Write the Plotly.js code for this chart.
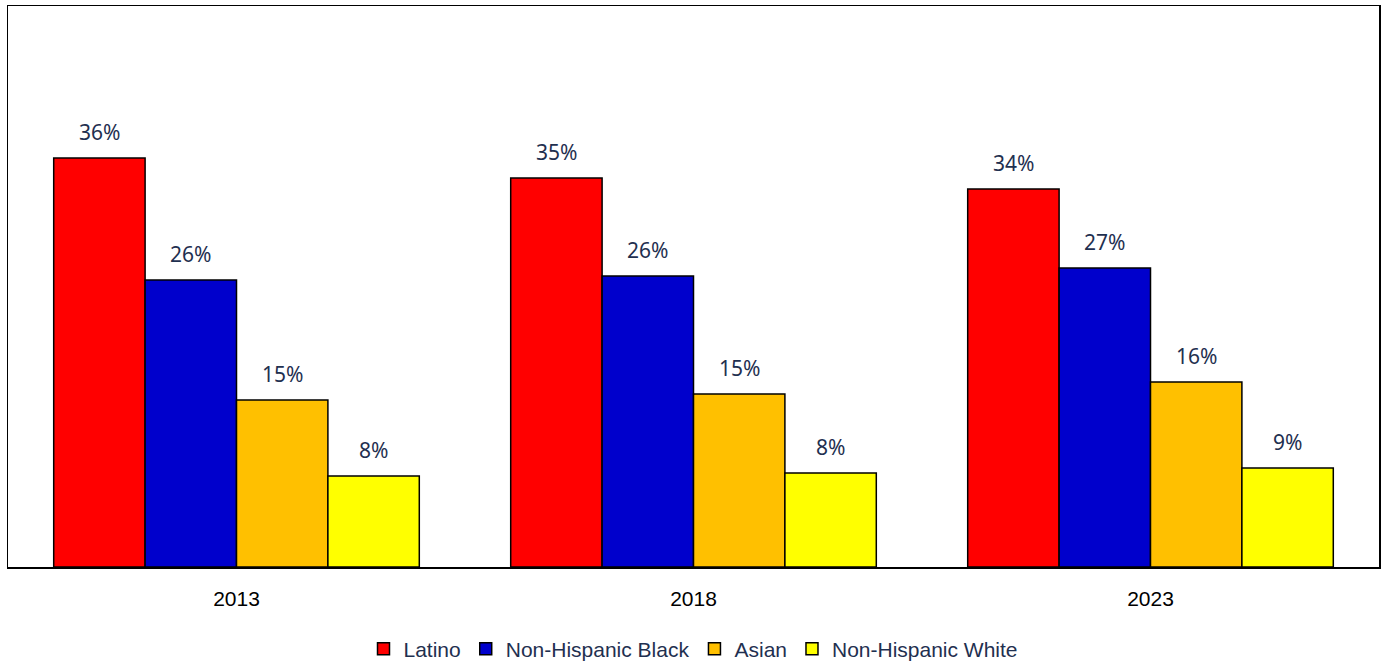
<!DOCTYPE html>
<html>
<head>
<meta charset="utf-8">
<script src="https://cdn.plot.ly/plotly-3.0.1.min.js"></script>
<style>html,body{margin:0;padding:0;background:#fff;}#chart{width:1382px;height:662px;}</style>
</head>
<body>
<div id="chart"></div>
<script>
const years = ['2013', '2018', '2023'];
const seriesNames = ['Latino', 'Non-Hispanic Black', 'Asian', 'Non-Hispanic White'];
const latino = [0.3645, 0.3467, 0.3369];
const black = [0.2558, 0.2594, 0.2665];
const asian = [0.1488, 0.1542, 0.1649];
const white = [0.0811, 0.0838, 0.0882];
const labelsLatino = ['36%', '35%', '34%'];
const labelsBlack = ['26%', '26%', '27%'];
const labelsAsian = ['15%', '15%', '16%'];
const labelsWhite = ['8%', '8%', '9%'];
const colors = ['#FF0000', '#0000CC', '#FFC000', '#FFFF00'];

const values = [latino, black, asian, white];
const labels = [labelsLatino, labelsBlack, labelsAsian, labelsWhite];

const traces = values.map((v, k) => ({
  type: 'bar',
  name: seriesNames[k],
  x: years,
  y: v,
  marker: {color: colors[k], line: {color: '#000000', width: 1.5}},
  hoverinfo: 'skip'
}));

const nS = values.length;
const bargap = 0.2;
const bw = (1 - bargap) / nS;
const annotations = [];
values.forEach((v, k) => {
  v.forEach((val, i) => {
    annotations.push({
      x: i - (1 - bargap) / 2 + bw * (k + 0.5),
      y: val,
      xref: 'x', yref: 'y',
      text: labels[k][i],
      showarrow: false,
      yanchor: 'bottom',
      yshift: 10,
      font: {family: '"Noto Sans", "Open Sans", sans-serif', size: 21, color: '#1F3050'}
    });
  });
});

const layout = {
  width: 1382, height: 662,
  margin: {l: 8, r: 3, t: 6, b: 95},
  paper_bgcolor: '#ffffff', plot_bgcolor: '#ffffff',
  barmode: 'group', bargap: bargap, bargroupgap: 0,
  showlegend: true,
  legend: {
    orientation: 'h', x: 0.5, xanchor: 'center', xref: 'paper',
    y: 0.0196, yanchor: 'middle', yref: 'container',
    font: {family: '"Liberation Sans", Arial, sans-serif', size: 21, color: '#1F3050'},
    traceorder: 'normal', itemclick: false, itemdoubleclick: false
  },
  xaxis: {
    type: 'category', showline: true, mirror: true, linecolor: '#000000', linewidth: 1.5,
    ticks: '', ticklabelstandoff: 12,
    tickfont: {family: '"Liberation Sans", Arial, sans-serif', size: 21, color: '#000000'},
    showgrid: false, zeroline: false, fixedrange: true
  },
  yaxis: {
    range: [0, 0.5], showline: true, mirror: true, linecolor: '#000000', linewidth: 1.5,
    showticklabels: false, ticks: '', showgrid: false, zeroline: false, fixedrange: true
  },
  annotations: annotations
};

Plotly.newPlot('chart', traces, layout, {displayModeBar: false, staticPlot: true});
</script>
</body>
</html>
